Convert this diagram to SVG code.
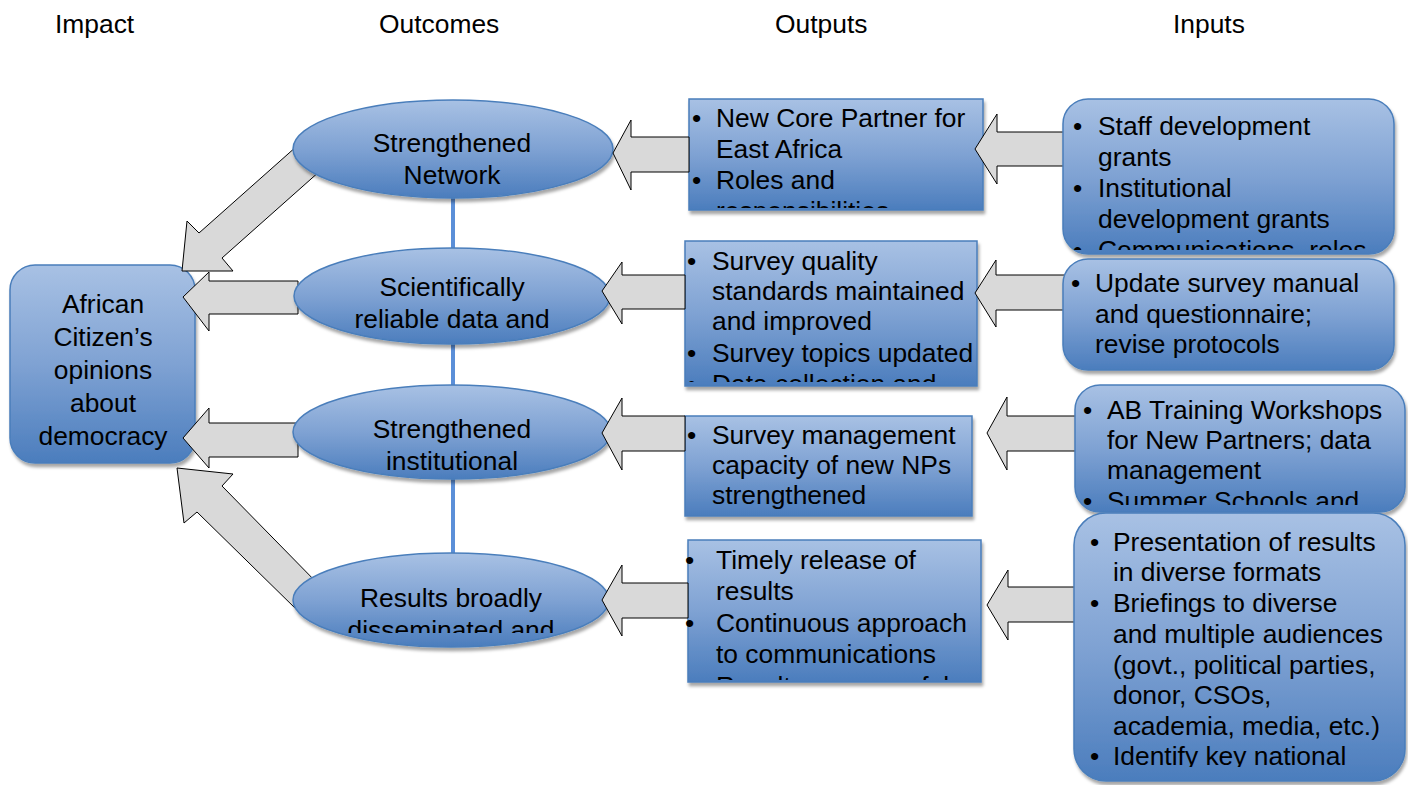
<svg xmlns="http://www.w3.org/2000/svg" width="1408" height="785" viewBox="0 0 1408 785">
  <style>
    .t{font-family:"Liberation Sans",Arial,"DejaVu Sans",sans-serif;font-size:26.4px;fill:#000}
    .c{text-anchor:middle}
    .node{fill:url(#blueFill);stroke:#4a7ebb;stroke-width:1.5;filter:url(#shadow)}
    .arrow{fill:#d9d9d9;stroke:#000;stroke-width:1;stroke-linejoin:miter}
    .link{stroke:#5b8fd8;stroke-width:4;fill:none}
  </style>
  <defs>
    <linearGradient id="blueFill" x1="0" y1="0" x2="0" y2="1">
      <stop offset="0" stop-color="#a8c1e4"/>
      <stop offset="0.5" stop-color="#7fa2d3"/>
      <stop offset="1" stop-color="#4b7dbd"/>
    </linearGradient>
    <filter id="shadow" x="-10%" y="-10%" width="125%" height="130%">
      <feDropShadow dx="1.5" dy="3.5" stdDeviation="1.8" flood-color="#000" flood-opacity="0.35"/>
    </filter>
    <!-- text areas: lines that run past the shape are cut off -->
    <clipPath id="clipE1"><rect x="293" y="100" width="320" height="85.5"/></clipPath>
    <clipPath id="clipE2"><rect x="293" y="248" width="320" height="80"/></clipPath>
    <clipPath id="clipE3"><rect x="293" y="385" width="320" height="85.5"/></clipPath>
    <clipPath id="clipE4"><rect x="293" y="553" width="320" height="80"/></clipPath>
    <clipPath id="clipO1"><rect x="689" y="99" width="295" height="109"/></clipPath>
    <clipPath id="clipO2"><rect x="680" y="241" width="297" height="141"/></clipPath>
    <clipPath id="clipO3"><rect x="680" y="416" width="292" height="100"/></clipPath>
    <clipPath id="clipO4"><rect x="684" y="540" width="298" height="140"/></clipPath>
    <clipPath id="clipI1"><rect x="1063" y="99" width="331" height="151"/></clipPath>
    <clipPath id="clipI2"><rect x="1063" y="259" width="331" height="111"/></clipPath>
    <clipPath id="clipI3"><rect x="1075" y="385" width="330" height="120"/></clipPath>
    <clipPath id="clipI4"><rect x="1074" y="513" width="331" height="254"/></clipPath>
  </defs>

  <rect width="1408" height="785" fill="#fff"/>

  <!-- column headings -->
  <g id="headings">
    <text class="t" x="55" y="33">Impact</text>
    <text class="t" x="379" y="33">Outcomes</text>
    <text class="t" x="775" y="33">Outputs</text>
    <text class="t" x="1173" y="33">Inputs</text>
  </g>

  <!-- impact -->
  <g id="impact">
    <rect class="node" x="10" y="265" width="185" height="198" rx="25"/>
    <text class="t c" x="103" y="313">African</text>
    <text class="t c" x="103" y="346">Citizen’s</text>
    <text class="t c" x="103" y="379">opinions</text>
    <text class="t c" x="103" y="412">about</text>
    <text class="t c" x="103" y="445">democracy</text>
  </g>

  <!-- links between outcomes and arrows into the impact box -->
  <g id="connectors-outcomes">
    <line class="link" x1="453" y1="190" x2="453" y2="255"/>
    <line class="link" x1="453" y1="338" x2="453" y2="392"/>
    <line class="link" x1="453" y1="472" x2="453" y2="560"/>
    <polygon class="arrow" points="182,271 187,221 199,233 297,146 320,171 222,258 233,271"/>
    <polygon class="arrow" points="183,297 209,272 209,281 298,281 298,314 209,314 209,331"/>
    <polygon class="arrow" points="183,438 209,408 209,423 298,423 298,457 209,457 209,468"/>
    <polygon class="arrow" points="177,468 233,474 222,486 322,588 298,611 197,512 184,523"/>
  </g>

  <!-- outcomes -->
  <g id="outcome-network">
    <ellipse class="node" cx="453" cy="149" rx="160" ry="49"/>
    <g clip-path="url(#clipE1)">
      <text class="t c" x="452" y="152">Strengthened</text>
      <text class="t c" x="452" y="184">Network</text>
    </g>
  </g>
  <g id="outcome-data">
    <ellipse class="node" cx="452" cy="296" rx="158" ry="48"/>
    <g clip-path="url(#clipE2)">
      <text class="t c" x="452" y="296">Scientifically</text>
      <text class="t c" x="452" y="328">reliable data and</text>
    </g>
  </g>
  <g id="outcome-institutional">
    <ellipse class="node" cx="452" cy="432" rx="159" ry="47"/>
    <g clip-path="url(#clipE3)">
      <text class="t c" x="452" y="438">Strengthened</text>
      <text class="t c" x="452" y="470">institutional</text>
    </g>
  </g>
  <g id="outcome-results">
    <ellipse class="node" cx="451" cy="600" rx="158" ry="47"/>
    <g clip-path="url(#clipE4)">
      <text class="t c" x="451" y="607">Results broadly</text>
      <text class="t c" x="451" y="639">disseminated and</text>
    </g>
  </g>

  <!-- outputs -->
  <g id="output-partner">
    <rect class="node" x="689" y="99" width="294" height="111"/>
    <g clip-path="url(#clipO1)">
      <text class="t" x="692" y="127">•</text>
      <text class="t" x="716" y="127">New Core Partner for</text>
      <text class="t" x="716" y="158">East Africa</text>
      <text class="t" x="692" y="189">•</text>
      <text class="t" x="716" y="189">Roles and</text>
      <text class="t" x="716" y="220">responsibilities</text>
    </g>
  </g>
  <g id="output-quality">
    <rect class="node" x="685" y="241" width="292" height="145"/>
    <g clip-path="url(#clipO2)">
      <text class="t" x="687" y="270">•</text>
      <text class="t" x="712" y="270">Survey quality</text>
      <text class="t" x="712" y="300">standards maintained</text>
      <text class="t" x="712" y="330">and improved</text>
      <text class="t" x="687" y="362">•</text>
      <text class="t" x="712" y="362">Survey topics updated</text>
      <text class="t" x="687" y="393">•</text>
      <text class="t" x="712" y="393">Data collection and</text>
    </g>
  </g>
  <g id="output-management">
    <rect class="node" x="685" y="416" width="287" height="100"/>
    <g clip-path="url(#clipO3)">
      <text class="t" x="687" y="444">•</text>
      <text class="t" x="712" y="444">Survey management</text>
      <text class="t" x="712" y="474">capacity of new NPs</text>
      <text class="t" x="712" y="504">strengthened</text>
    </g>
  </g>
  <g id="output-release">
    <rect class="node" x="688" y="540" width="293" height="142"/>
    <g clip-path="url(#clipO4)">
      <text class="t" x="685" y="569">•</text>
      <text class="t" x="716" y="569">Timely release of</text>
      <text class="t" x="716" y="600">results</text>
      <text class="t" x="685" y="632">•</text>
      <text class="t" x="716" y="632">Continuous approach</text>
      <text class="t" x="716" y="663">to communications</text>
      <text class="t" x="685" y="695">•</text>
      <text class="t" x="716" y="695">Results more useful</text>
    </g>
  </g>

  <!-- arrows from inputs to outputs and from outputs to outcomes -->
  <g id="connectors-outputs">
    <polygon class="arrow" points="613,153 631,120 631,137 689,137 689,172 631,172 631,190"/>
    <polygon class="arrow" points="602,291 622,262 622,275 685,275 685,309 622,309 622,324"/>
    <polygon class="arrow" points="602,433 622,398 622,416 685,416 685,451 622,451 622,470"/>
    <polygon class="arrow" points="602,600 622,565 622,583 688,583 688,618 622,618 622,636"/>
    <polygon class="arrow" points="975,149 997,114 997,132 1066,132 1066,166 997,166 997,184"/>
    <polygon class="arrow" points="975,293 996,260 996,275 1066,275 1066,310 996,310 996,327"/>
    <polygon class="arrow" points="987,433 1007,397 1007,416 1078,416 1078,451 1007,451 1007,470"/>
    <polygon class="arrow" points="987,605 1008,570 1008,587 1078,587 1078,622 1008,622 1008,640"/>
  </g>

  <!-- inputs -->
  <g id="input-grants">
    <rect class="node" x="1063" y="99" width="331" height="155" rx="25"/>
    <g clip-path="url(#clipI1)">
      <text class="t" x="1073" y="135">•</text>
      <text class="t" x="1098" y="135">Staff development</text>
      <text class="t" x="1098" y="166">grants</text>
      <text class="t" x="1073" y="197">•</text>
      <text class="t" x="1098" y="197">Institutional</text>
      <text class="t" x="1098" y="228">development grants</text>
      <text class="t" x="1073" y="259">•</text>
      <text class="t" x="1098" y="259">Communications, roles</text>
    </g>
  </g>
  <g id="input-manual">
    <rect class="node" x="1063" y="259" width="331" height="111" rx="25"/>
    <g clip-path="url(#clipI2)">
      <text class="t" x="1071" y="292">•</text>
      <text class="t" x="1095" y="292">Update survey manual</text>
      <text class="t" x="1095" y="323">and questionnaire;</text>
      <text class="t" x="1095" y="353">revise protocols</text>
    </g>
  </g>
  <g id="input-training">
    <rect class="node" x="1075" y="385" width="330" height="127" rx="25"/>
    <g clip-path="url(#clipI3)">
      <text class="t" x="1083" y="419">•</text>
      <text class="t" x="1107" y="419">AB Training Workshops</text>
      <text class="t" x="1107" y="449">for New Partners; data</text>
      <text class="t" x="1107" y="479">management</text>
      <text class="t" x="1083" y="510">•</text>
      <text class="t" x="1107" y="510">Summer Schools and</text>
    </g>
  </g>
  <g id="input-dissemination">
    <rect class="node" x="1074" y="513" width="331" height="268" rx="32"/>
    <g clip-path="url(#clipI4)">
      <text class="t" x="1090" y="551">•</text>
      <text class="t" x="1113" y="551">Presentation of results</text>
      <text class="t" x="1113" y="581">in diverse formats</text>
      <text class="t" x="1090" y="612">•</text>
      <text class="t" x="1113" y="612">Briefings to diverse</text>
      <text class="t" x="1113" y="643">and multiple audiences</text>
      <text class="t" x="1113" y="674">(govt., political parties,</text>
      <text class="t" x="1113" y="704">donor, CSOs,</text>
      <text class="t" x="1113" y="735">academia, media, etc.)</text>
      <text class="t" x="1090" y="765">•</text>
      <text class="t" x="1113" y="765">Identify key national</text>
    </g>
  </g>
</svg>
